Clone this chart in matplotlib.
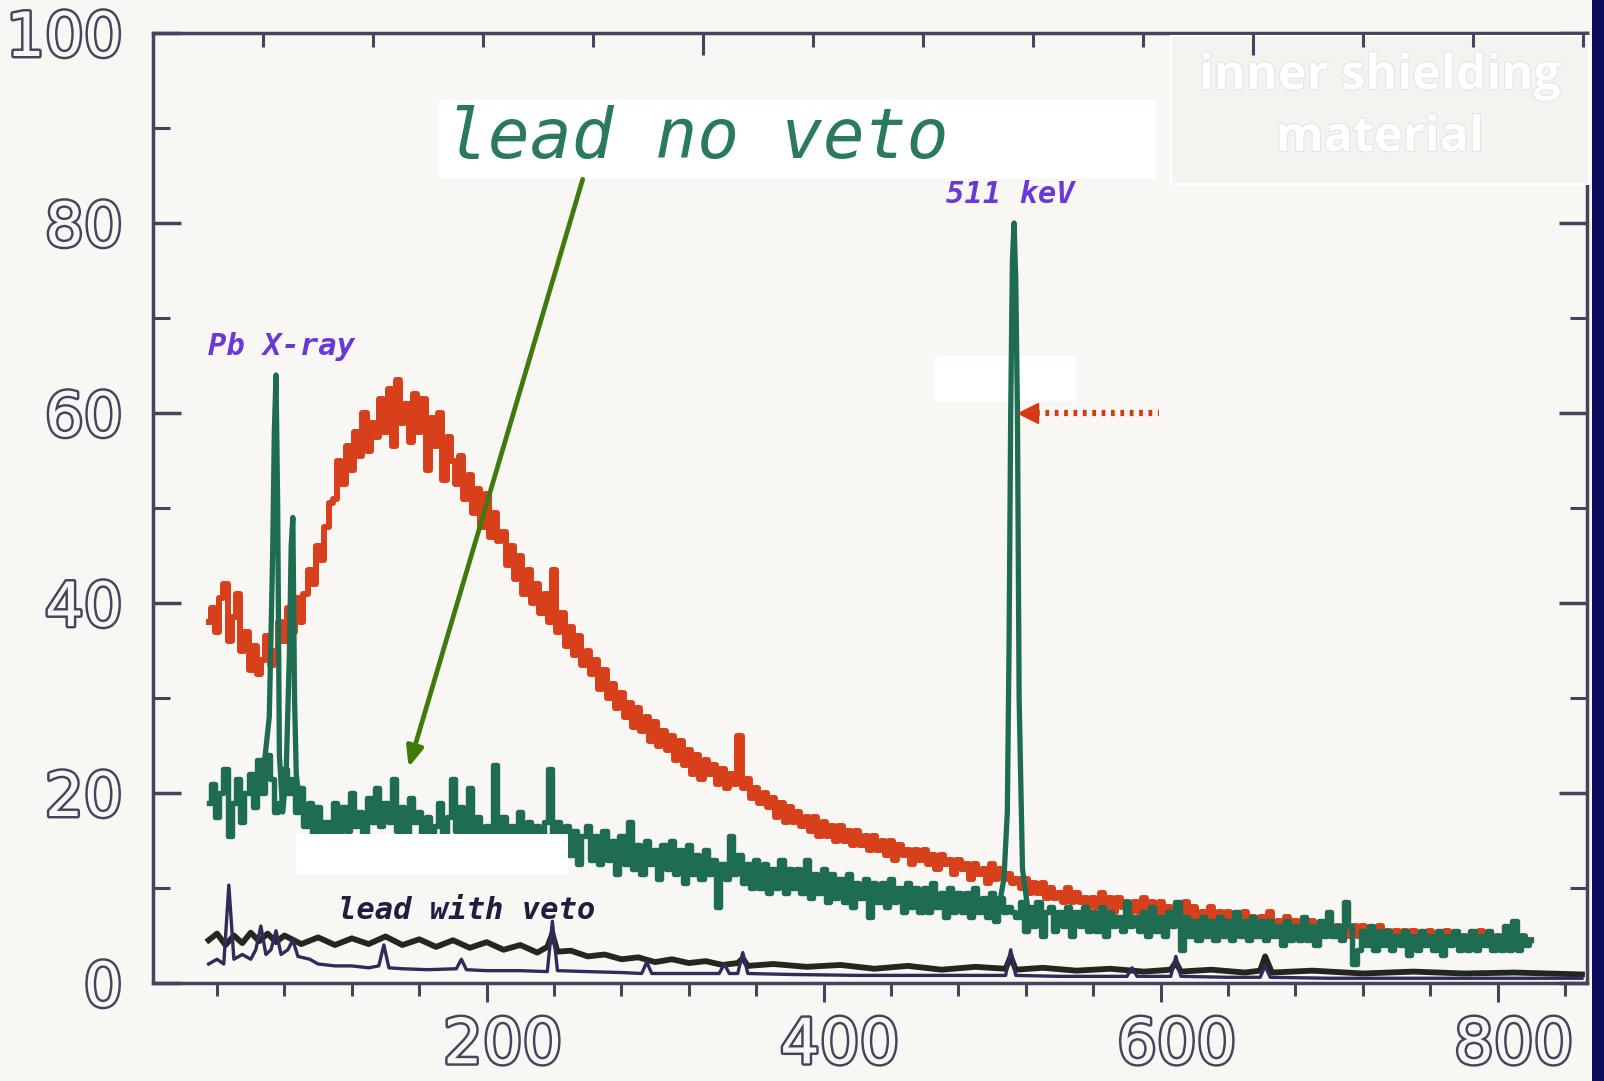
import matplotlib
matplotlib.use('Agg')
import numpy as np
import matplotlib.pyplot as plt
import matplotlib.patheffects as pe
from matplotlib.patches import Rectangle
from matplotlib.transforms import ScaledTranslation

# spectrum continuum, 2.5 keV bins from 35 to 820 keV (one row = 25 keV)
energy = np.arange(35, 820.1, 2.5)

# inner shielding material (red)
shield = [38, 39.5, 37, 40.5, 42, 36, 38.5, 41, 35, 37,
          33, 35.5, 32.5, 34, 36.5, 33.5, 35, 38, 36, 39.5,
          37, 40.5, 38, 41, 43.5, 42, 46, 44.5, 48, 50.5,
          51, 55, 52.5, 56.5, 54, 58, 55.5, 60, 56, 59,
          57.5, 61.5, 58, 62.5, 56.5, 63.5, 59, 61, 57, 62,
          58, 61.5, 54, 59.5, 56.5, 60, 53, 57.5, 55, 52.5,
          55.5, 51, 53.5, 49.5, 52, 48, 51.5, 47, 49.5, 46.5,
          47.5, 44, 46, 42.5, 45, 41, 43.5, 40, 42, 39,
          41, 38, 43.5, 37, 39, 35.5, 37.5, 34.5, 36.5, 33.5,
          35, 32.5, 34, 31, 33, 30, 31.5, 29, 30.5, 28,
          29.5, 27, 29, 26.5, 28, 25.5, 27.5, 25, 26.5, 24.5,
          26, 23.5, 25.5, 23, 24.5, 22, 24, 21.5, 23.5, 22,
          23, 21, 22.5, 20.5, 22, 21, 26, 20.5, 21.5, 19.5,
          20.5, 19, 20, 18.5, 19.5, 17.5, 19, 17, 18.5, 17,
          18, 16.5, 17.5, 16, 17.5, 15.5, 17, 15.5, 16.5, 15,
          16.5, 15, 16, 14.5, 16, 14.5, 15.5, 14, 15.5, 14,
          15, 13.5, 15, 13, 14.5, 13.5, 14, 12.5, 14, 13,
          14, 12.5, 13.5, 12, 13.5, 12.5, 13, 11.5, 13, 12,
          12.5, 11, 12.5, 11.5, 12, 10.5, 12.5, 11, 12, 11,
          11.5, 10.5, 11, 10, 11, 9.5, 10.5, 9.5, 10.5, 9,
          10, 9, 9.5, 8.5, 10, 8.5, 9.5, 8.5, 9, 8,
          9, 8, 9.5, 8, 9, 7.5, 9, 8, 8.5, 7.5,
          8.5, 7.5, 9, 7.5, 8.5, 7, 8.5, 7.5, 8, 7,
          8, 7, 8.5, 6.5, 8, 7, 7.5, 6.5, 8, 7,
          7.5, 6.5, 7.5, 6.5, 7, 6, 7.5, 6.5, 7, 6,
          7, 6, 7.5, 6, 6.5, 5.5, 7, 6, 6.5, 5.5,
          6.5, 5.5, 6.5, 5.5, 6, 5, 6.5, 5.5, 6, 5,
          6, 5, 6, 5, 6, 5, 5.5, 4.5, 6, 5,
          5.5, 4.5, 5.5, 5, 5.5, 4.5, 5.5, 4.5, 5, 4.5,
          5.5, 4.5, 5, 4.5, 5.5, 4.5, 5, 4, 5, 4.5,
          5, 4.5, 5.5, 4, 5, 4.5, 5, 4, 5, 4.5,
          5, 4, 5, 4.5, 4.5]

# lead no veto (green)
no_veto = [19, 21, 17.5, 20, 22.5, 15.5, 19, 21.5, 17, 20,
           22, 18.5, 23.5, 20, 24, 21.5, 18, 19, 22.5, 20,
           21.5, 18, 20.5, 16.5, 19, 15, 18.5, 14.5, 17, 15.5,
           19, 15.5, 18.5, 16, 20, 16.5, 18, 15, 19.5, 17,
           20.5, 16.5, 19, 17, 21.5, 16, 18.5, 15.5, 19.5, 17,
           18, 15.5, 17.5, 14.5, 16.5, 19, 15, 17.5, 21.5, 16,
           18.5, 15, 20.5, 16, 17.5, 14.5, 16.5, 15, 23, 15.5,
           17.5, 14, 16.5, 13.5, 18, 15, 17, 14, 16.5, 13.5,
           17, 22.5, 15, 17, 14, 16.5, 13.5, 16, 12.5, 15.5,
           16.5, 13, 15.5, 12.5, 16, 13, 15, 11.5, 15.5, 12.5,
           17, 12, 14.5, 11.5, 15, 12.5, 14, 11, 14.5, 12,
           15, 11.5, 14, 10.5, 14.5, 11.5, 13.5, 11, 14, 11.5,
           13, 8, 12.5, 11, 15.5, 11.5, 13.5, 10.5, 12.5, 10,
           13, 10, 12.5, 9.5, 12, 10, 13, 9.5, 12, 10,
           12, 9.5, 13, 9, 11.5, 9.5, 12, 8.5, 11.5, 9,
           11, 8.5, 11.5, 8, 10.5, 9, 11, 7, 10.5, 8.5,
           10.5, 8, 11, 8.5, 10, 7.5, 10.5, 8, 10, 7.5,
           10, 7.5, 10.5, 8, 9.5, 7, 10, 7.5, 9.5, 7.5,
           9.5, 7, 10, 7.5, 9, 7, 9.5, 6.5, 9, 7.5,
           8, 7.5, 7, 8.5, 5.5, 8, 6, 8.5, 5, 7.5,
           8, 5.5, 7.5, 6, 8, 5, 7.5, 6, 8, 5.5,
           7.5, 5.5, 8, 5, 7.5, 6, 7, 5.5, 8.5, 6,
           7, 5.5, 7.5, 5, 8, 5.5, 7, 5, 7.5, 6,
           8.5, 3.5, 7, 5, 6.5, 4.5, 7, 5, 6.5, 4.5,
           7, 5, 6.5, 4.5, 7.5, 5, 6.5, 4.5, 7, 5,
           6.5, 4.5, 6.5, 5, 6, 4, 6.5, 4.5, 6, 4.5,
           7, 4.5, 6, 4, 6.5, 5, 7.5, 5, 6, 4.5,
           8.5, 6, 2, 3.5, 5.5, 4, 6, 3.5, 5.5, 4,
           5.5, 3.5, 5, 4, 5.5, 3, 5, 3.5, 5.5, 4,
           5, 3.5, 5.5, 3, 5, 4, 5.5, 3.5, 5, 3.5,
           5.5, 3.5, 5, 4, 5.5, 3.5, 5, 3.5, 6, 3.5,
           6.5, 3.5, 5, 4, 4.5]

# narrow lines in the no-veto spectrum
pb_e = [68, 71, 73, 74, 75, 76, 77, 79, 81, 83, 84, 85, 86, 87, 89]
pb_c = [23, 28, 45, 58, 64, 50, 24, 18, 22, 35, 46, 49, 30, 22, 19]
ann_e = [504, 507, 509, 510, 511, 512, 513, 514, 515, 516, 518, 521]
ann_c = [8, 11, 18, 35, 60, 76, 80, 74, 60, 30, 12, 8]

# lead with veto, two runs
veto_hi_e = [35, 40, 45, 50, 55, 60, 65, 70, 75, 80, 90, 100, 110, 120, 130, 140, 150, 160,
             170, 180, 190, 200, 210, 220, 230, 236, 239, 242, 250, 260, 270, 280, 290, 300,
             310, 320, 330, 340, 349, 352, 355, 370, 390, 410, 430, 450, 470, 490, 508, 511,
             514, 530, 550, 570, 590, 606, 609, 612, 630, 650, 659, 662, 666, 690, 720, 750,
             780, 810, 850]
veto_hi_c = [4.5, 5.2, 4.0, 5.0, 4.2, 5.3, 4.4, 5.2, 4.3, 5.0, 4.1, 4.8, 4.0, 4.7, 4.1, 4.9,
             4.0, 4.6, 3.8, 4.5, 3.7, 4.3, 3.5, 4.0, 3.2, 3.8, 5.2, 3.3, 3.4, 2.8, 3.0, 2.5,
             2.7, 2.2, 2.5, 2.1, 2.3, 1.9, 2.1, 2.6, 1.8, 2.0, 1.7, 1.9, 1.5, 1.8, 1.4, 1.7,
             1.5, 2.8, 1.4, 1.6, 1.3, 1.5, 1.2, 1.4, 2.2, 1.2, 1.4, 1.1, 1.3, 2.8, 1.1, 1.3,
             1.0, 1.2, 1.0, 1.1, 0.9]
veto_lo_e = [35, 40, 44, 47, 50, 55, 60, 63, 66, 69, 72, 75, 78, 82, 85, 88, 95, 100, 110,
             120, 130, 136, 139, 142, 150, 165, 182, 185, 188, 200, 220, 236, 239, 242, 260,
             280, 292, 295, 298, 320, 338, 341, 344, 349, 352, 355, 380, 420, 460, 500, 508,
             511, 514, 540, 580, 583, 586, 606, 609, 612, 640, 659, 662, 665, 700, 740, 770,
             800, 850]
veto_lo_c = [2.0, 2.5, 2.0, 10.3, 2.5, 3.0, 2.5, 3.5, 6.0, 3.0, 3.5, 5.5, 3.0, 3.5, 4.5, 2.8,
             2.5, 2.0, 1.8, 1.8, 1.6, 1.8, 4.0, 1.6, 1.5, 1.4, 1.5, 2.5, 1.4, 1.3, 1.3, 1.2,
             6.5, 1.3, 1.2, 1.1, 1.0, 2.2, 1.0, 1.0, 1.0, 2.0, 1.0, 1.0, 3.2, 1.0, 0.9, 0.8,
             0.8, 0.8, 0.8, 3.5, 0.8, 0.7, 0.7, 1.6, 0.7, 0.7, 2.8, 0.7, 0.6, 0.6, 1.8, 0.6,
             0.5, 0.5, 0.5, 0.5, 0.5]

bottom_labels = [200, 400, 600, 800]
left_labels = [0, 20, 40, 60, 80, 100]
top_labels = [100, 200]

paper = '#f8f7f3'
ink = '#44445e'
red = '#d8401c'
green = '#1e6c51'
purple = '#6a38d6'
mono = 'DejaVu Sans Mono'

fig = plt.figure(figsize=(16.04, 10.81), dpi=100, facecolor=paper)
ax = fig.add_axes([153 / 1604, 98 / 1081, 1434 / 1604, 950 / 1081])
ax.set_facecolor('none')

ax.plot(energy, shield, drawstyle='steps-mid', color=red, lw=4.3, zorder=2)
ax.plot(energy, no_veto, drawstyle='steps-mid', color=green, lw=3.9, zorder=3)
ax.plot(pb_e, pb_c, color=green, lw=3.8, zorder=3)
ax.plot(ann_e, ann_c, color=green, lw=3.8, zorder=5)
ax.plot(veto_hi_e, veto_hi_c, color='#24271d', lw=4.2, zorder=6)
ax.plot(veto_lo_e, veto_lo_c, color='#2d2d5c', lw=2.4, zorder=7)

ax.set_xlim(2, 853)
ax.set_ylim(0, 100)

outline = [pe.withStroke(linewidth=3.5, foreground=ink)]
ax.set_xticks(bottom_labels)
ax.set_xticks(np.arange(40, 841, 40), minor=True)
ax.set_yticks(left_labels)
ax.set_yticks(np.arange(10, 100, 20), minor=True)
ax.tick_params(axis='x', which='major', direction='out', length=14, width=2.2, color=ink,
               labelsize=45, labelcolor=paper, pad=10)
ax.tick_params(axis='x', which='minor', direction='out', length=9, width=2.2, color=ink)
ax.tick_params(axis='y', which='major', direction='in', length=20, width=2.5, color=ink,
               labelsize=44, labelcolor=paper, pad=22, right=True)
ax.tick_params(axis='y', which='minor', direction='in', length=12, width=2.2, color=ink, right=True)
for lbl in ax.get_xticklabels() + ax.get_yticklabels():
    lbl.set_path_effects(outline)
for lbl in ax.get_xticklabels():
    lbl.set_transform(lbl.get_transform() + ScaledTranslation(0.16, 0, fig.dpi_scale_trans))
for sp in ax.spines.values():
    sp.set_color(ink)
    sp.set_linewidth(2.5)

# second scale on top, only the bottom of its labels is on the page
top = ax.twiny()
top.set_xlim(0, 260.7)
top.set_xticks(top_labels)
top.set_xticks(np.arange(20, 261, 20), minor=True)
top.tick_params(axis='x', which='major', direction='in', length=16, width=2.2, color=ink,
                labelsize=45, labelcolor=paper, pad=22)
top.tick_params(axis='x', which='minor', direction='in', length=10, width=2.2, color=ink)
for lbl in top.get_xticklabels():
    lbl.set_path_effects(outline)
for sp in top.spines.values():
    sp.set_visible(False)

# white patches pasted over the scan
ax.add_patch(Rectangle((172, 84.6), 425, 8.4, facecolor='white', edgecolor='none', zorder=8, clip_on=False))
ax.add_patch(Rectangle((466, 61.3), 84, 4.7, facecolor='white', edgecolor='none', zorder=4))
ax.add_patch(Rectangle((87, 11.4), 161, 4.3, facecolor='white', edgecolor='none', zorder=4))
ax.add_patch(Rectangle((606, 84.1), 248, 15.6, facecolor='#f3f3f0', edgecolor='white', lw=1.5,
                       zorder=8, clip_on=False))

ax.text(176, 88.9, 'lead no veto', family=mono, style='oblique', fontsize=50,
        color='#2b7a5e', ha='left', va='center', zorder=9)
shade = [pe.withStroke(linewidth=1.5, foreground='#e4e4e2')]
ax.text(730, 95.4, 'inner shielding', fontsize=35, weight='bold', family='Open Sans',
        color='white', ha='center', va='center', zorder=9, path_effects=shade)
ax.text(730, 88.9, 'material', fontsize=35, weight='bold', family='Open Sans',
        color='white', ha='center', va='center', zorder=9, path_effects=shade)
ax.text(78, 67, 'Pb X-ray', family=mono, style='oblique', weight='bold', fontsize=22,
        color=purple, ha='center', va='center', zorder=9)
ax.text(511, 83, '511 keV', family=mono, style='oblique', weight='bold', fontsize=22,
        color=purple, ha='center', va='center', zorder=9)
ax.text(188, 7.6, 'lead with veto', family=mono, style='oblique', weight='bold', fontsize=22,
        color='#1e1e40', ha='center', va='center', zorder=9)

ax.annotate('', xy=(153.7, 22.7), xytext=(257, 84.6), zorder=9,
            arrowprops=dict(arrowstyle='-|>,head_length=1.2,head_width=0.5', color='#3e7a0c',
                            lw=3.4, shrinkA=0, shrinkB=0))
ax.plot([526, 599], [60, 60], color='#d63a12', lw=4.5, linestyle=(0, (0.6, 0.9)), zorder=9)
ax.plot([521], [60], marker='<', markersize=14, color='#d63a12', zorder=9)

fig.patches.append(Rectangle((1592 / 1604, 0), 12 / 1604, 1, transform=fig.transFigure,
                             facecolor='#0c0c5c', edgecolor='none'))

fig.savefig('out.png', dpi=100, facecolor=paper)
